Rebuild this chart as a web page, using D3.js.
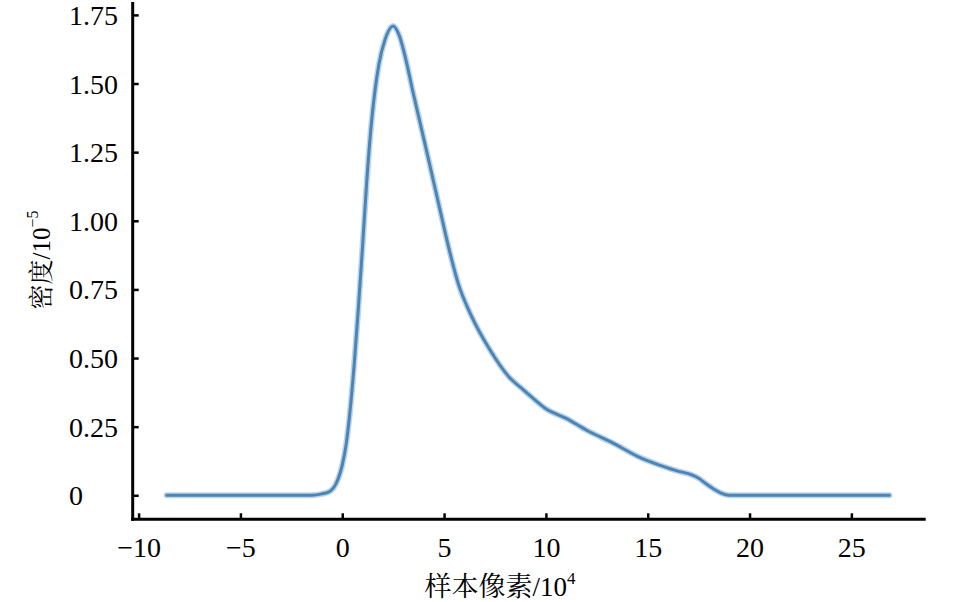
<!DOCTYPE html>
<html><head><meta charset="utf-8">
<script src="https://cdn.jsdelivr.net/npm/d3@7"></script>
<style>
body{margin:0;background:#fff;}
svg{display:block;}
</style></head>
<body><svg id="chart" width="957" height="602"></svg>
<script>
// x in units of 10^4 sample pixels, density in units of 10^-5
const xValues = [-8.62,-6,-3,-1.5,-1.0,-0.6,-0.4,-0.2,0,0.2,0.4,0.6,0.8,1.0,1.2,1.4,1.6,1.8,2.1,2.5,2.8,3.05,3.5,4.0,4.4,4.8,5.3,5.7,6.3,7.25,8.2,8.8,9.5,10,11,12,13.3,14.5,15.5,16.4,17.2,17.5,17.9,18.3,18.6,19.0,22,26.87];
const densityValues = [0,0,0,0,0.005,0.015,0.03,0.06,0.11,0.19,0.32,0.49,0.69,0.91,1.14,1.33,1.47,1.57,1.66,1.71,1.675,1.61,1.46,1.30,1.17,1.04,0.88,0.77,0.66,0.53,0.43,0.39,0.345,0.315,0.28,0.237,0.19,0.142,0.112,0.09,0.073,0.062,0.04,0.02,0.008,0,0,0];
const xTicks = [-10,-5,0,5,10,15,20,25];
const xTickLabels = ["\u221210","\u22125","0","5","10","15","20","25"];
const yTicks = [0,0.25,0.5,0.75,1.0,1.25,1.5,1.75];
const yTickLabels = ["0","0.25","0.50","0.75","1.00","1.25","1.50","1.75"];

const SERIF = '"Liberation Serif","Times New Roman","DejaVu Serif",serif';
const CJK = '"Liberation Serif","Noto Serif CJK SC","Noto Sans CJK SC",serif';

const svg = d3.select("#chart");
const L = 132.7, R = 925.7, T = 2, B = 519.3;
const x = d3.scaleLinear().domain([-10.29, 28.65]).range([L, R]);
const y = d3.scaleLinear().domain([-0.0875, 1.797]).range([B, T]);

// curve
const data = xValues.map((v,i)=>({x:v, y:densityValues[i]}));
const line = d3.line().x(d=>x(d.x)).y(d=>y(d.y)).curve(d3.curveMonotoneX);
svg.append("path").datum(data).attr("d", line)
  .attr("fill","none").attr("stroke","rgba(110,160,205,0.45)").attr("stroke-width",6)
  .attr("stroke-linecap","round").attr("stroke-linejoin","round");
svg.append("path").datum(data).attr("d", line)
  .attr("fill","none").attr("stroke","#4a85b6").attr("stroke-width",3)
  .attr("stroke-linecap","round").attr("stroke-linejoin","round");

// axes
const xAxis = d3.axisBottom(x).tickValues(xTicks).tickSizeInner(-6).tickSizeOuter(0)
  .tickFormat((d,i)=>xTickLabels[i]);
const gx = svg.append("g").attr("transform",`translate(0,${B})`).call(xAxis)
  .attr("font-family",SERIF).attr("font-size",28);
gx.select(".domain").remove();
gx.selectAll(".tick line").attr("stroke","#000").attr("stroke-width",2.5);
gx.selectAll(".tick text").attr("y",28).attr("dy",null).attr("dominant-baseline","central")
  .attr("fill","#000").style("font-family",SERIF).style("font-size","28px");

const yAxis = d3.axisLeft(y).tickValues(yTicks).tickSizeInner(-6).tickSizeOuter(0)
  .tickFormat((d,i)=>yTickLabels[i]);
const gy = svg.append("g").attr("transform",`translate(${L},0)`).call(yAxis)
  .attr("font-family",SERIF).attr("font-size",28);
gy.select(".domain").remove();
gy.selectAll(".tick line").attr("stroke","#000").attr("stroke-width",2.5);
gy.selectAll(".tick text").attr("x",69-L).attr("dy",null).attr("text-anchor","start")
  .attr("dominant-baseline","central")
  .attr("fill","#000").style("font-family",SERIF).style("font-size","28px");

// axis lines
svg.append("line").attr("x1",L).attr("x2",L).attr("y1",T).attr("y2",B+1.5)
  .attr("stroke","#000").attr("stroke-width",3);
svg.append("line").attr("x1",L-1.5).attr("x2",R).attr("y1",B).attr("y2",B)
  .attr("stroke","#000").attr("stroke-width",3);

// axis titles
const xt = svg.append("text").attr("x",500).attr("y",587).attr("text-anchor","middle")
  .attr("dominant-baseline","central").attr("fill","#000")
  .style("font-family",CJK).style("font-size","27px");
xt.append("tspan").text("样本像素/10");
xt.append("tspan").attr("dy",-9).style("font-size","17px").text("4");

const yt = svg.append("text").attr("transform","translate(41,260) rotate(-90)")
  .attr("text-anchor","middle").attr("dominant-baseline","central").attr("fill","#000")
  .style("font-family",CJK).style("font-size","25px");
yt.append("tspan").text("密度/10");
yt.append("tspan").attr("dy",-9).style("font-size","16px").text("\u22125");
</script></body></html>
